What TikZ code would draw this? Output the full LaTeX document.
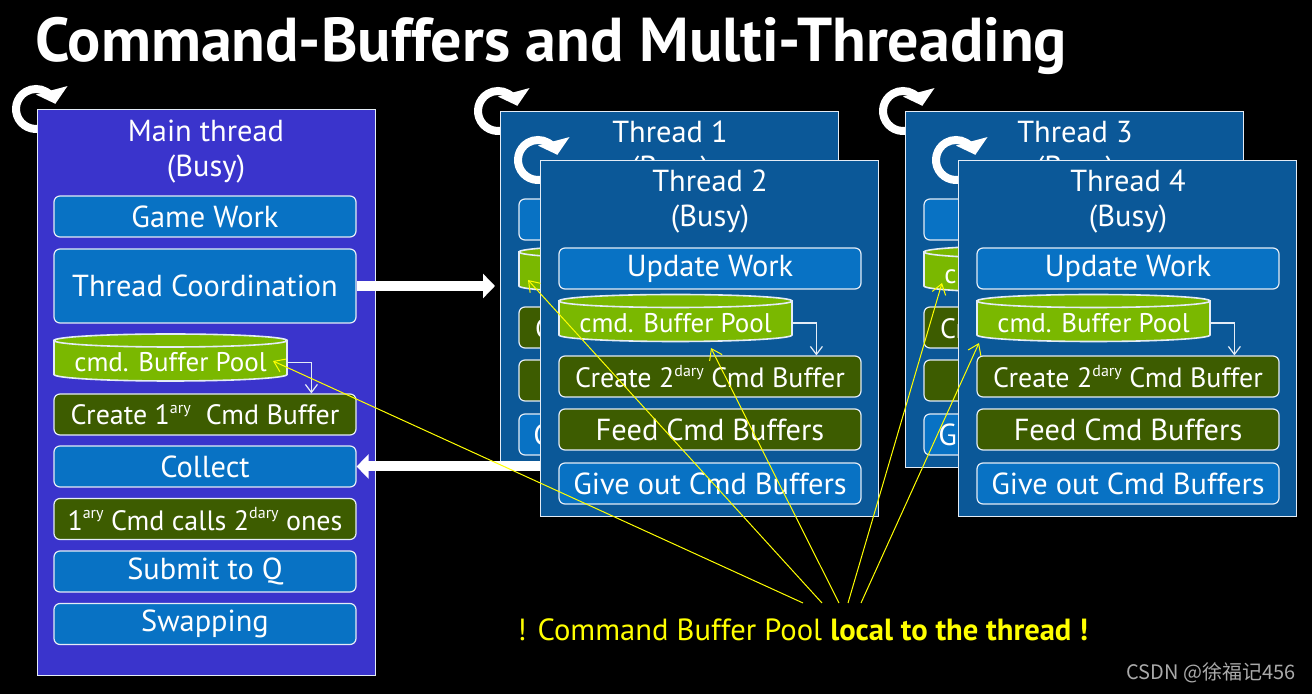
\documentclass[tikz,border=0pt]{standalone}
\usepackage{fontspec}
\usepackage{tikz}
\usetikzlibrary{arrows.meta,calc,positioning}
\setmainfont{PT Sans}
\newfontfamily\cjkfont{Noto Sans CJK SC}
\definecolor{mainviolet}{RGB}{58,52,204}
\definecolor{threadblue}{RGB}{11,88,152}
\definecolor{taskblue}{RGB}{8,114,196}
\definecolor{taskgreen}{RGB}{61,92,0}
\definecolor{poolgreen}{RGB}{122,184,0}
\definecolor{noteyellow}{RGB}{255,255,0}
\definecolor{rimwhite}{RGB}{228,236,246}
\definecolor{markgray}{RGB}{170,170,170}

\newcommand\boxfont{\fontsize{15.2}{17.5}\selectfont}
\newcommand\narrowfont{\fontsize{14}{17.5}\selectfont}
\newcommand\headfont{\fontsize{31}{36}\selectfont\bfseries}
\newcommand\ordinal[1]{\raisebox{0.8ex}{\fontsize{8}{9}\selectfont #1}}

\tikzset{
  mainbox/.style={draw=rimwhite, fill=mainviolet, line width=0.6pt, minimum width=169pt, minimum height=283pt, anchor=north west, inner sep=0pt},
  threadbox/.style={draw=rimwhite, fill=threadblue, line width=0.6pt, minimum width=169pt, minimum height=178pt, anchor=north west, inner sep=0pt},
  threadtitle/.style={text=white, align=center, font=\boxfont},
  task/.style={draw=rimwhite, rounded corners=3pt, line width=0.6pt, minimum width=151pt, minimum height=20.5pt, inner sep=0pt, text=white, font=\boxfont},
  bluetask/.style={task, fill=taskblue},
  greentask/.style={task, fill=taskgreen},
  poolbody/.style={fill=poolgreen, draw=rimwhite, line width=0.8pt},
  pooltext/.style={text=white, minimum width=116.5pt, inner sep=0pt, font=\fontsize{13.5}{16}\selectfont},
  busyring/.style={white, line width=4pt, -{Triangle[width=16pt,length=7pt]}},
  bigarrow/.style={white, line width=5pt, -{Triangle[width=12pt,length=6pt]}},
  poolarrow/.style={rimwhite, line width=0.6pt, -{Straight Barb[length=4pt,width=6pt]}},
  pointer/.style={noteyellow, line width=0.5pt, -{Straight Barb[length=5pt,width=7pt]}},
}

% circular "busy" arrow round a corner
\newcommand\busyloop[2]{%
  \draw[busyring] (#1,#2) ++(60:20) arc[start angle=60, end angle=345, radius=20];
}

% cylinder with its label node
\newcommand\bufferpool[3]{%
  \filldraw[poolbody] (#2-116.5,#3-17) -- (#2-116.5,#3+17) arc[start angle=180, end angle=0, x radius=116.5, y radius=6.5] -- (#2+116.5,#3-17) -- cycle;
  \filldraw[poolbody] (#2,#3-17) ellipse [x radius=116.5, y radius=6.5];
  \node[pooltext] (#1) at (#2,#3+5) {cmd. Buffer Pool};
}

% one worker thread
\newcommand\threadpanel[4]{%
  \busyloop{#2-2}{#3}
  \node[threadbox] (#1) at (#2,#3) {};
  \node[threadtitle] (#1-title) at (#2+170,#3+42) {#4\\(Busy)};
  \node[bluetask] (#1-update) at (#2+170,#3+108.5) {Update Work};
  \bufferpool{#1-pool}{#2+135.5}{#3+158}
  \node[greentask, font=\narrowfont] (#1-create) at (#2+170,#3+216.5) {Create 2\ordinal{dary} Cmd Buffer};
  \node[greentask] (#1-feed) at (#2+170,#3+269.5) {Feed Cmd Buffers};
  \node[bluetask] (#1-give) at (#2+170,#3+323.5) {Give out Cmd Buffers};
  \draw[poolarrow] (#1-pool.east) -| ($(#1-create.north west)+(258,0)$);
}

\begin{document}
\begin{tikzpicture}[x=0.5pt,y=-0.5pt]

% Background
\useasboundingbox (0,0) rectangle (1312,694);
\fill[black] (0,0) rectangle (1312,694);

% Title
\node[anchor=base west, text=white, font=\headfont, inner sep=0pt] (title) at (35,62) {Command-Buffers and Multi-Threading};

% Main thread
\busyloop{36}{109}
\node[mainbox] (main) at (37,109) {};
\node[threadtitle] (main-title) at (206,152) {Main thread\\(Busy)};
\node[bluetask] (gamework) at (205,216.5) {Game Work};
\node[bluetask, minimum height=37pt] (coord) at (205,286) {Thread Coordination};
\bufferpool{poolM}{170.5}{357.5}
\node[greentask, font=\narrowfont] (createM) at (205,414.5) {Create 1\ordinal{ary}\ \ Cmd Buffer};
\node[bluetask] (collect) at (205,466.5) {Collect};
\node[greentask, font=\narrowfont] (calls) at (205,519) {1\ordinal{ary} Cmd calls 2\ordinal{dary} ones};
\node[bluetask] (submit) at (205,571.5) {Submit to Q};
\node[bluetask] (swap) at (205,624) {Swapping};
\draw[poolarrow] (poolM.east) -| ($(createM.north west)+(258,0)$);

% Worker threads
\threadpanel{thrA}{500}{111}{Thread 1}
\threadpanel{thrB}{540}{160}{Thread 2}
\threadpanel{thrC}{905}{111}{Thread 3}
\threadpanel{thrD}{958}{160}{Thread 4}

% Hand over and collect
\draw[bigarrow, shorten >=2.5pt] (coord.east) -- (coord.east -| thrA.west);
\draw[bigarrow] (thrB.west |- collect.east) -- (collect.east);

% Note
\node[anchor=base west, text=noteyellow, font=\fontsize{15.3}{18}\selectfont, inner sep=0pt] (note) at (517,641) {! Command Buffer Pool \textbf{local to the thread !}};
\node[anchor=base east, text=markgray, font=\cjkfont\fontsize{10}{12}\selectfont, inner sep=0pt] (watermark) at (1296,680) {CSDN @徐福记456};

% Pointers to the pools
\coordinate (hint-a) at (803,603);
\coordinate (hint-b) at (822,603);
\coordinate (hint-c) at (839,603);
\coordinate (hint-d) at (848,603);
\coordinate (hint-e) at (861,603);
\draw[pointer] (hint-a) -- ($(poolM)+(102.5,-1.5)$);
\draw[pointer] (hint-b) -- ($(thrA-pool)+(-107.5,6)$);
\draw[pointer] (hint-c) -- ($(thrB-pool)+(35.5,25)$);
\draw[pointer] (hint-d) -- ($(thrC-pool)+(-98.5,9)$);
\draw[pointer] (hint-e) -- ($(thrD-pool)+(-114.5,20)$);

\end{tikzpicture}
\end{document}
